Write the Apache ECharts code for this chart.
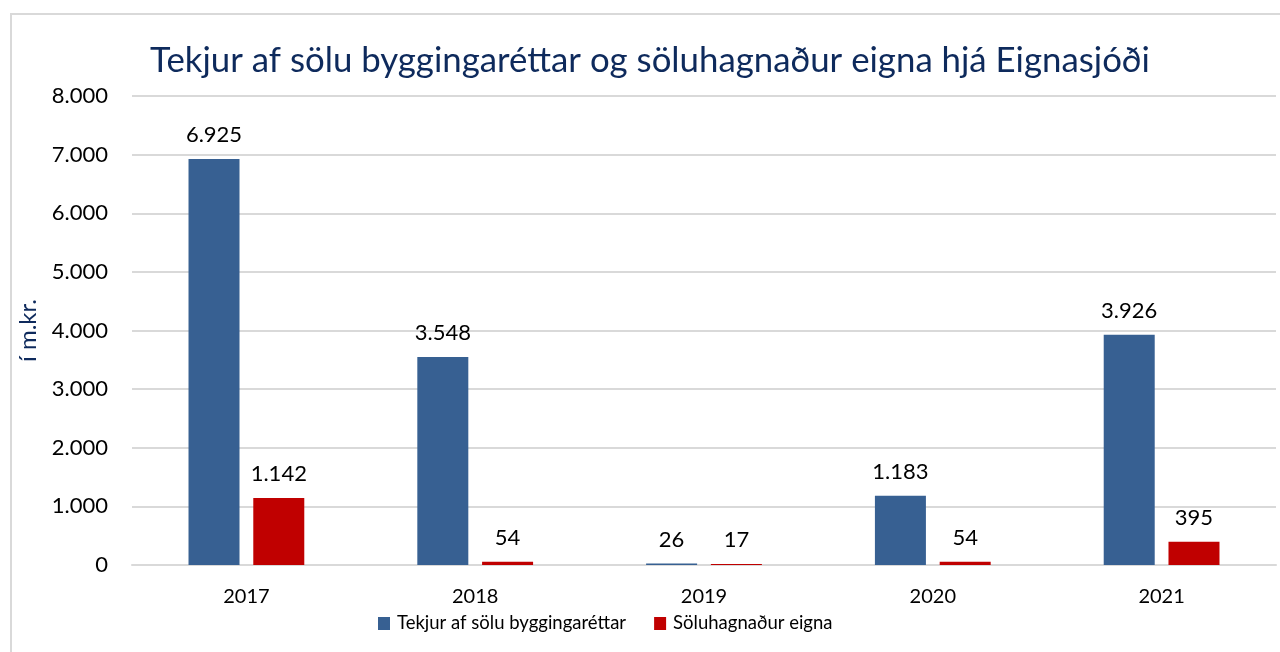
<!DOCTYPE html>
<html lang="is">
  <head>
    <meta charset="utf-8" />
    <title>Tekjur af sölu byggingaréttar</title>
    <script src="https://cdn.jsdelivr.net/npm/echarts@6/dist/echarts.min.js"></script>
    <style>
      html, body { margin: 0; padding: 0; background: #fff; }
      #chart { width: 1280px; height: 652px; }
    </style>
  </head>
  <body>
    <div id="chart"></div>
    <script>
      var years = ['2017', '2018', '2019', '2020', '2021']
      var tekjur = [6925, 3548, 26, 1183, 3926]
      var soluhagnadur = [1142, 54, 17, 54, 395]
      var yTicks = [0, 1000, 2000, 3000, 4000, 5000, 6000, 7000, 8000]

      var FONT = 'Lato'
      function fmt (v) {
        return String(v).replace(/\B(?=(\d{3})+(?!\d))/g, '.')
      }

      var chart = echarts.init(document.getElementById('chart'))
      chart.setOption({
        animation: false,
        textStyle: { fontFamily: FONT },
        graphic: [{
          type: 'rect',
          shape: { x: 11, y: 14, width: 1400, height: 800 },
          style: { fill: 'none', stroke: '#d9d9d9', lineWidth: 2 },
          silent: true
        }],
        title: {
          text: 'Tekjur af sölu byggingaréttar og söluhagnaður eigna hjá Eignasjóði',
          left: 645,
          textAlign: 'center',
          top: 38,
          textStyle: { fontFamily: FONT, fontSize: 34.8, fontWeight: 'normal', color: '#0e2a5c' }
        },
        legend: {
          left: 373,
          top: 609,
          itemWidth: 12,
          itemHeight: 13,
          itemGap: 28,
          icon: 'rect',
          textStyle: { fontFamily: FONT, fontSize: 18.5, color: '#000', padding: [0, 0, 0, 2] },
          data: ['Tekjur af sölu byggingaréttar', 'Söluhagnaður eigna']
        },
        grid: { left: 132, right: 4, top: 96, bottom: 87, containLabel: false },
        xAxis: {
          type: 'category',
          data: years,
          axisLine: { lineStyle: { color: '#d9d9d9', width: 2 } },
          axisTick: { show: false },
          axisLabel: { margin: 22, fontFamily: FONT, fontSize: 20, color: '#000' }
        },
        yAxis: {
          type: 'value',
          min: yTicks[0],
          max: yTicks[yTicks.length - 1],
          interval: 1000,
          name: 'í m.kr.',
          nameLocation: 'middle',
          nameGap: 92,
          nameTextStyle: { fontFamily: FONT, fontSize: 24, color: '#0e2a5c' },
          axisLine: { show: false },
          axisTick: { show: false },
          splitLine: { lineStyle: { color: '#d9d9d9', width: 2 } },
          axisLabel: { margin: 24, fontFamily: FONT, fontSize: 22, color: '#000', formatter: fmt }
        },
        series: [
          {
            name: 'Tekjur af sölu byggingaréttar',
            type: 'bar',
            data: tekjur,
            barWidth: 51,
            barGap: '27%',
            itemStyle: { color: '#376092' },
            label: { show: true, position: 'top', distance: 13, fontFamily: FONT, fontSize: 22, color: '#000', formatter: function (p) { return fmt(p.value) } }
          },
          {
            name: 'Söluhagnaður eigna',
            type: 'bar',
            data: soluhagnadur,
            barWidth: 51,
            barGap: '27%',
            itemStyle: { color: '#c00000' },
            label: { show: true, position: 'top', distance: 13, fontFamily: FONT, fontSize: 22, color: '#000', formatter: function (p) { return fmt(p.value) } }
          }
        ]
      })
    </script>
  </body>
</html>
